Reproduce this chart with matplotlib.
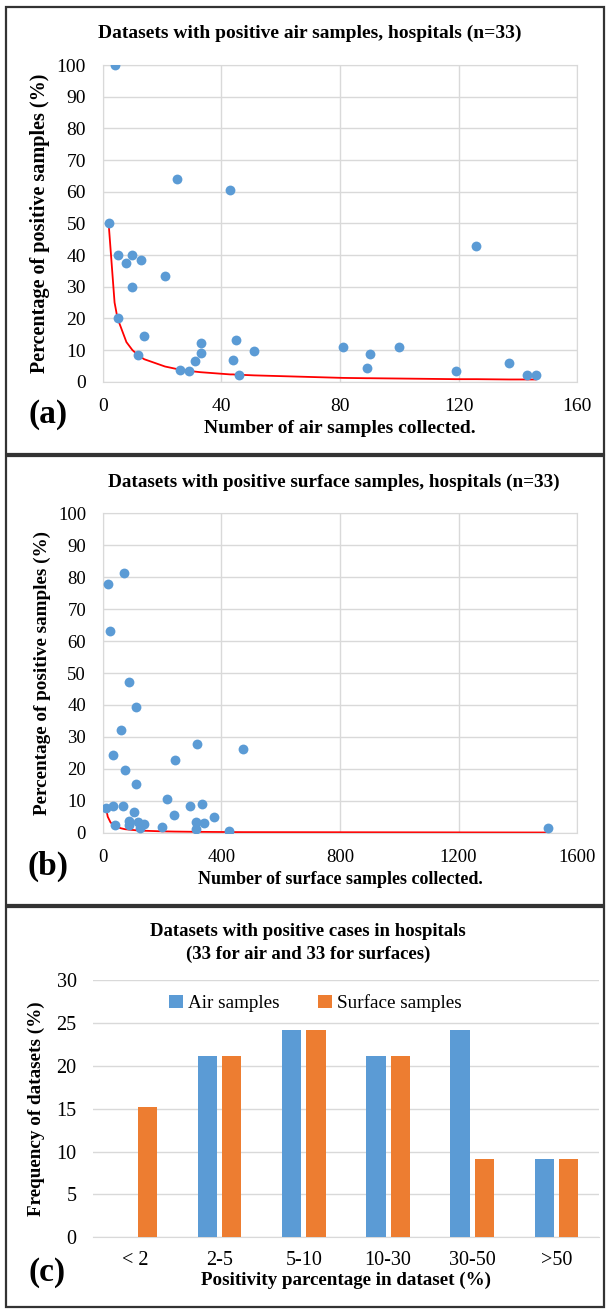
import matplotlib.pyplot as plt
from matplotlib.patches import Rectangle
import numpy as np

plt.rcParams['font.family'] = ['Liberation Serif', 'DejaVu Serif']

BLUE = '#5B9BD5'
ORANGE = '#ED7D31'
GRID = '#D9D9D9'

# panel (a): air samples
air_n = [4, 25, 43, 2, 5, 8, 10, 13, 21, 10, 5, 14, 12, 33, 33, 31, 26, 29, 45, 44,
         46, 51, 81, 90, 89, 100, 119, 126, 137, 143, 146]
air_pct = [100, 64.1, 60.5, 50, 40, 37.5, 40, 38.4, 33.3, 30, 20, 14.3, 8.3, 12.1, 9.1,
           6.5, 3.8, 3.4, 13.3, 6.7, 2.1, 9.7, 11.1, 8.9, 4.4, 11.1, 3.4, 42.9, 5.8, 2.0, 2.0]
fit_a_x = [2, 4, 5, 8, 10, 12, 13, 14, 21, 25, 26, 29, 31, 33, 43, 44, 45, 46, 51,
           81, 89, 90, 100, 119, 126, 137, 143, 146]
fit_a_y = [50, 25, 20, 12.5, 10, 8.3, 7.7, 7.1, 4.8, 4.0, 3.8, 3.4, 3.2, 3.0, 2.3, 2.3,
           2.2, 2.2, 2.0, 1.2, 1.1, 1.1, 1.0, 0.8, 0.8, 0.7, 0.7, 0.7]

# panel (b): surface samples
surf_n = [17, 73, 26, 87, 111, 61, 36, 75, 111, 318, 472, 244, 217, 11, 34, 68, 106,
          293, 335, 375, 240, 42, 87, 90, 119, 126, 140, 200, 316, 316, 340, 427, 1500]
surf_pct = [78, 81.2, 63.1, 47.2, 39.3, 32.3, 24.2, 19.7, 15.2, 27.8, 26.3, 22.9, 10.5,
            7.7, 8.5, 8.5, 6.5, 8.5, 8.9, 5.0, 5.4, 2.4, 3.6, 2.3, 3.5, 1.5, 2.8, 1.9,
            3.3, 1.2, 3.1, 0.4, 1.6]
fit_b_x = [11, 17, 26, 34, 42, 61, 75, 90, 111, 140, 200, 244, 316, 375, 427, 472, 1500]
fit_b_y = [7.7, 5.0, 3.3, 2.5, 2.0, 1.4, 1.1, 0.95, 0.77, 0.61, 0.43, 0.35, 0.27, 0.23,
           0.2, 0.18, 0.06]

# panel (c): frequency of datasets
bins = ['< 2', '2-5', '5-10', '10-30', '30-50', '>50']
freq_air = [0, 21.2, 24.2, 21.2, 24.2, 9.1]
freq_surf = [15.2, 21.2, 24.2, 21.2, 9.1, 9.1]

W, H = 606, 1309
fig = plt.figure(figsize=(W / 100, H / 100), dpi=100)


def fx(px):
    return px / W


def fy(py):
    return 1 - py / H


# panel frames
for top, bot in [(7, 454), (456, 905), (907, 1307)]:
    fig.patches.append(Rectangle((fx(6), fy(bot)), fx(598), (bot - top) / H,
                                 transform=fig.transFigure, fill=False,
                                 edgecolor='#333333', linewidth=1.6))


def scatter_panel(rect, xs, ys, fxs, fys, xmax, xstep, title, xlabel, tag,
                  title_x, title_y, tag_y, tsize, xlsize, ylsize, ticksize):
    ax = fig.add_axes(rect)
    ax.scatter(xs, ys, s=50, color=BLUE, zorder=3, linewidths=0)
    ax.plot(fxs, fys, color='red', lw=1.3, zorder=2)
    ax.set_xlim(0, xmax)
    ax.set_ylim(0, 100)
    ax.set_xticks(np.arange(0, xmax + 1, xstep))
    ax.set_yticks(np.arange(0, 101, 10))
    ax.grid(True, color=GRID, lw=1)
    ax.set_axisbelow(True)
    for s in ax.spines.values():
        s.set_color(GRID)
    ax.tick_params(length=0, labelsize=ticksize, pad=12)
    ax.set_xlabel(xlabel, fontsize=xlsize, fontweight='bold', labelpad=3)
    ax.set_ylabel('Percentage of positive samples (%)', fontsize=ylsize,
                  fontweight='bold', labelpad=5)
    fig.text(fx(title_x), fy(title_y), title, fontsize=tsize, fontweight='bold',
             ha='center', va='center')
    fig.text(fx(48), fy(tag_y), tag, fontsize=24, fontweight='bold',
             ha='center', va='center')
    return ax


scatter_panel([fx(102.7), fy(381.7), fx(474.6), 316.7 / H], air_n, air_pct,
              fit_a_x, fit_a_y, 160, 40,
              'Datasets with positive air samples, hospitals (n=33)',
              'Number of air samples collected.', '(a)', 310, 33, 414,
              14, 14, 14.5, 14)

scatter_panel([fx(102.7), fy(832.7), fx(474.6), 319.4 / H], surf_n, surf_pct,
              fit_b_x, fit_b_y, 1600, 400,
              'Datasets with positive surface samples, hospitals (n=33)',
              'Number of surface samples collected.', '(b)', 334, 482, 866,
              13.8, 13, 13.8, 13.5)

# panel (c)
axc = fig.add_axes([fx(93.2), fy(1237.3), fx(505.5), 257 / H])
x = np.arange(len(bins))
bw = 0.229
off = 0.145
axc.bar(x - off, freq_air, bw, color=BLUE, label='Air samples', zorder=3)
axc.bar(x + off, freq_surf, bw, color=ORANGE, label='Surface samples', zorder=3)
axc.set_xlim(-0.5, len(bins) - 0.5)
axc.set_ylim(0, 30)
axc.set_yticks(np.arange(0, 31, 5))
axc.set_xticks(x)
axc.set_xticklabels(bins)
axc.yaxis.grid(True, color=GRID, lw=1)
axc.set_axisbelow(True)
for side in ['left', 'right', 'top']:
    axc.spines[side].set_visible(False)
axc.spines['bottom'].set_color(GRID)
axc.tick_params(length=0, labelsize=14.5)
axc.tick_params(axis='y', pad=12)
axc.tick_params(axis='x', pad=10)
axc.set_xlabel('Positivity parcentage in dataset (%)', fontsize=13.7,
               fontweight='bold', labelpad=1)
axc.set_ylabel('Frequency of datasets (%)', fontsize=13.8, fontweight='bold',
               labelpad=8)
axc.legend(loc='center', bbox_to_anchor=(0.44, 0.91), ncol=2, frameon=False,
           fontsize=13.8, handlelength=0.7, handleheight=0.7, handletextpad=0.3,
           columnspacing=2.0)
fig.text(fx(308), fy(932), 'Datasets with positive cases in hospitals',
         fontsize=13.5, fontweight='bold', ha='center', va='center')
fig.text(fx(308), fy(954), '(33 for air and 33 for surfaces)',
         fontsize=13.5, fontweight='bold', ha='center', va='center')
fig.text(fx(47), fy(1272), '(c)', fontsize=24, fontweight='bold',
         ha='center', va='center')

fig.savefig('out.png', dpi=100)
